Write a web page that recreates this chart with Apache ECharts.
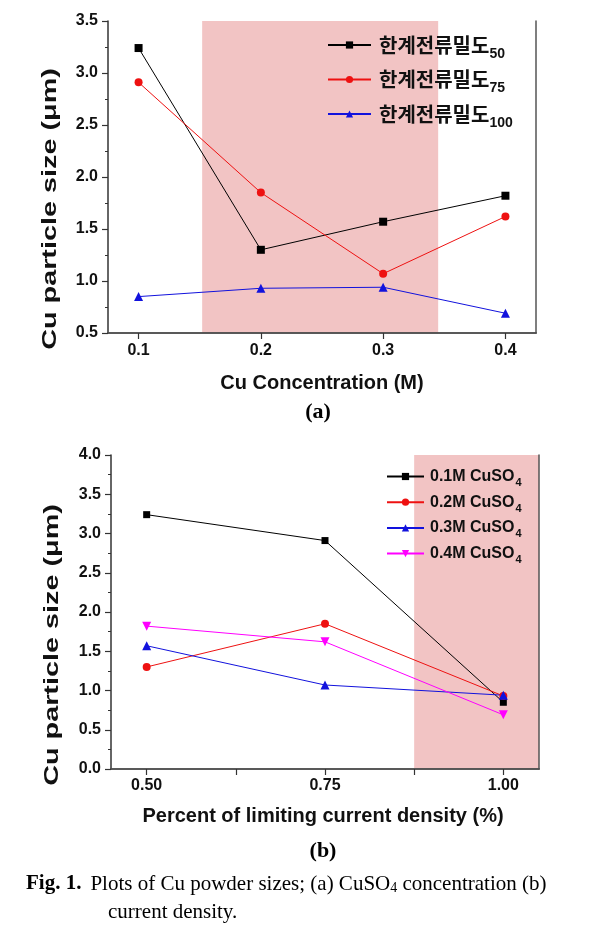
<!DOCTYPE html>
<html>
<head>
<meta charset="utf-8">
<script src="https://cdn.jsdelivr.net/npm/echarts@6/dist/echarts.min.js"></script>
<style>
html,body{margin:0;padding:0;background:#fff;}
#chart{width:592px;height:936px;}
</style>
</head>
<body>
<div id="chart"></div>
<script>
// ---------- data ----------
var concA = [0.1, 0.2, 0.3, 0.4];
var a50 = [3.24, 1.30, 1.57, 1.82];
var a75 = [2.91, 1.85, 1.07, 1.62];
var a100 = [0.85, 0.93, 0.94, 0.69];
var namesA = ['한계전류밀도50', '한계전류밀도75', '한계전류밀도100'];
var subsA = ['50', '75', '100'];
var shadeA = [0.152, 0.345];
var ticksAX = [0.1, 0.2, 0.3, 0.4];

var densB = [0.50, 0.75, 1.00];
var b01 = [3.24, 2.91, 0.85];
var b02 = [1.30, 1.85, 0.93];
var b03 = [1.57, 1.07, 0.94];
var b04 = [1.82, 1.62, 0.69];
var namesB = ['0.1M CuSO4', '0.2M CuSO4', '0.3M CuSO4', '0.4M CuSO4'];
var labelsB = ['0.1M CuSO', '0.2M CuSO', '0.3M CuSO', '0.4M CuSO'];
var shadeB = [0.875, 1.05];
var ticksBX = [0.5, 0.625, 0.75, 0.875, 1.0];
var labelsBX = [0.5, 0.75, 1.0];

function pairs(xs, ys) { return xs.map(function (x, i) { return [x, ys[i]]; }); }

var SANS = 'Liberation Sans, Arial, sans-serif';
var SERIF = 'Liberation Serif, Times New Roman, serif';
var AX = '#333';

function yAxisCfg(grid, min, max) {
  return {
    type: 'value', gridIndex: grid, min: min, max: max, interval: 0.5, z: 5,
    axisLine: { show: true, lineStyle: { color: AX, width: 1.5 } },
    axisTick: { show: true, inside: false, length: 6, lineStyle: { color: AX, width: 1.2 } },
    minorTick: { show: true, splitNumber: 2, length: 3, lineStyle: { color: AX, width: 1 } },
    splitLine: { show: false },
    axisLabel: { color: '#111', fontFamily: SANS, fontWeight: 'bold', fontSize: 16, margin: 10,
      formatter: function (v) { return v.toFixed(1); } }
  };
}
function frameX(grid) {
  return { type: 'value', gridIndex: grid, position: 'top', z: 5,
    axisLine: { show: true, lineStyle: { color: '#555', width: 1.5 } },
    axisTick: { show: false }, axisLabel: { show: false }, splitLine: { show: false } };
}
function frameY(grid) {
  return { type: 'value', gridIndex: grid, position: 'right', z: 5,
    axisLine: { show: true, lineStyle: { color: '#555', width: 1.5 } },
    axisTick: { show: false }, axisLabel: { show: false }, splitLine: { show: false } };
}

function lineSeries(name, xi, yi, data, color, symbol, size, rotate) {
  return {
    name: name, type: 'line', xAxisIndex: xi, yAxisIndex: yi, data: data, z: 3,
    symbol: symbol, symbolSize: size, symbolRotate: rotate || 0, showSymbol: true,
    itemStyle: { color: color }, lineStyle: { color: color, width: 1 },
    emphasis: { disabled: true }, animation: false
  };
}
function shadeSeries(xi, yi, range, ys, xs) {
  return {
    name: 'shade' + xi, type: 'line', xAxisIndex: xi, yAxisIndex: yi, z: 1,
    data: pairs(xs, ys), symbol: 'none', lineStyle: { opacity: 0 }, silent: true, animation: false,
    markArea: { silent: true, itemStyle: { color: '#f2c4c4' },
      data: [[{ xAxis: range[0] }, { xAxis: range[1] }]] }
  };
}

var chart = echarts.init(document.getElementById('chart'), null, { renderer: 'canvas' });
var option = {
  backgroundColor: '#fff',
  animation: false,
  grid: [
    { left: 108, top: 21, width: 428, height: 312, outerBoundsMode: 'none' },
    { left: 111, top: 455, width: 428, height: 314, outerBoundsMode: 'none' }
  ],
  xAxis: [
    {
      type: 'value', gridIndex: 0, min: 0.075, max: 0.425, z: 5,
      axisLine: { show: true, onZero: false, lineStyle: { color: AX, width: 1.5 } },
      axisTick: { show: true, inside: false, length: 6, customValues: ticksAX, lineStyle: { color: AX, width: 1.2 } },
      splitLine: { show: false },
      axisLabel: { customValues: ticksAX, color: '#111', fontFamily: SANS, fontWeight: 'bold', fontSize: 16, margin: 10,
        formatter: function (v) { return v.toFixed(1); } }
    },
    {
      type: 'value', gridIndex: 1, min: 0.45, max: 1.05, z: 5,
      axisLine: { show: true, onZero: false, lineStyle: { color: AX, width: 1.5 } },
      axisTick: { show: true, inside: false, length: 6, customValues: ticksBX, lineStyle: { color: AX, width: 1.2 } },
      splitLine: { show: false },
      axisLabel: { customValues: labelsBX, color: '#111', fontFamily: SANS, fontWeight: 'bold', fontSize: 16, margin: 9,
        formatter: function (v) { return v.toFixed(2); } }
    },
    frameX(0), frameX(1)
  ],
  yAxis: [ yAxisCfg(0, 0.5, 3.5), yAxisCfg(1, 0, 4), frameY(0), frameY(1) ],
  legend: [
    {
      data: namesA, orient: 'vertical', left: 322, top: 24, itemWidth: 43, itemHeight: 9, itemGap: 2.5,
      selectedMode: false,
      formatter: function (n) { var i = namesA.indexOf(n); return '{m|한계전류밀도}{s|' + subsA[i] + '}'; },
      textStyle: { color: '#111', padding: [0, 0, 0, 3],
        rich: {
          m: { fontFamily: 'Noto Sans CJK KR', fontWeight: 'bold', fontSize: 20, lineHeight: 24, color: '#111' },
          s: { fontFamily: SANS, fontWeight: 'bold', fontSize: 14, lineHeight: 4, padding: [18, 0, 0, 0], color: '#111' }
        } }
    },
    {
      data: namesB, orient: 'vertical', left: 381, top: 459.5, itemWidth: 37, itemHeight: 9, itemGap: 1.7,
      selectedMode: false,
      formatter: function (n) { var i = namesB.indexOf(n); return '{m|' + labelsB[i] + '}{s|4}'; },
      textStyle: { color: '#111', padding: [0, 0, 0, 1],
        rich: {
          m: { fontFamily: SANS, fontWeight: 'bold', fontSize: 16, lineHeight: 20, color: '#111' },
          s: { fontFamily: SANS, fontWeight: 'bold', fontSize: 11, lineHeight: 4, padding: [13, 0, 0, 1], color: '#111' }
        } }
    }
  ],
  series: [
    shadeSeries(0, 0, shadeA, a50, concA),
    lineSeries(namesA[0], 0, 0, pairs(concA, a50), '#000000', 'rect', 8),
    lineSeries(namesA[1], 0, 0, pairs(concA, a75), '#ee1111', 'circle', 8),
    lineSeries(namesA[2], 0, 0, pairs(concA, a100), '#1212dd', 'triangle', 9),
    shadeSeries(1, 1, shadeB, b01, densB),
    lineSeries(namesB[0], 1, 1, pairs(densB, b01), '#000000', 'rect', 7),
    lineSeries(namesB[1], 1, 1, pairs(densB, b02), '#ee1111', 'circle', 8),
    lineSeries(namesB[2], 1, 1, pairs(densB, b03), '#1212dd', 'triangle', 9),
    lineSeries(namesB[3], 1, 1, pairs(densB, b04), '#ff00ff', 'triangle', 9, 180)
  ],
  graphic: [
    { type: 'text', x: 50, y: 209, rotation: Math.PI / 2, scaleX: 1.44,
      style: { text: 'Cu particle size (μm)', font: 'bold 20px ' + SANS, fill: '#111', align: 'center', verticalAlign: 'middle' } },
    { type: 'text', x: 322, y: 383,
      style: { text: 'Cu Concentration (M)', font: 'bold 20px ' + SANS, fill: '#111', align: 'center', verticalAlign: 'middle' } },
    { type: 'text', x: 318, y: 412,
      style: { text: '(a)', font: 'bold 22px ' + SERIF, fill: '#000', align: 'center', verticalAlign: 'middle' } },
    { type: 'text', x: 52, y: 645, rotation: Math.PI / 2, scaleX: 1.44,
      style: { text: 'Cu particle size (μm)', font: 'bold 20px ' + SANS, fill: '#111', align: 'center', verticalAlign: 'middle' } },
    { type: 'text', x: 323, y: 816,
      style: { text: 'Percent of limiting current density (%)', font: 'bold 20px ' + SANS, fill: '#111', align: 'center', verticalAlign: 'middle' } },
    { type: 'text', x: 323, y: 851,
      style: { text: '(b)', font: 'bold 22px ' + SERIF, fill: '#000', align: 'center', verticalAlign: 'middle' } },
    { type: 'text', x: 26, y: 884,
      style: { text: '{b|Fig. 1.}{g| }{n|Plots of Cu powder sizes; (a) CuSO}{s|4}{n| concentration (b)}',
        fill: '#000', align: 'left', verticalAlign: 'middle',
        rich: {
          b: { fontFamily: SERIF, fontWeight: 'bold', fontSize: 21, lineHeight: 24, fill: '#000' },
          g: { fontFamily: SERIF, fontSize: 21, lineHeight: 24, width: 9, fill: '#000' },
          n: { fontFamily: SERIF, fontSize: 21, lineHeight: 24, fill: '#000' },
          s: { fontFamily: SERIF, fontSize: 14, lineHeight: 4, padding: [9, 0, 0, 0], fill: '#000' }
        } } },
    { type: 'text', x: 108, y: 912,
      style: { text: 'current density.', font: '21px ' + SERIF, fill: '#000', align: 'left', verticalAlign: 'middle' } }
  ]
};
chart.setOption(option);
</script>
</body>
</html>
